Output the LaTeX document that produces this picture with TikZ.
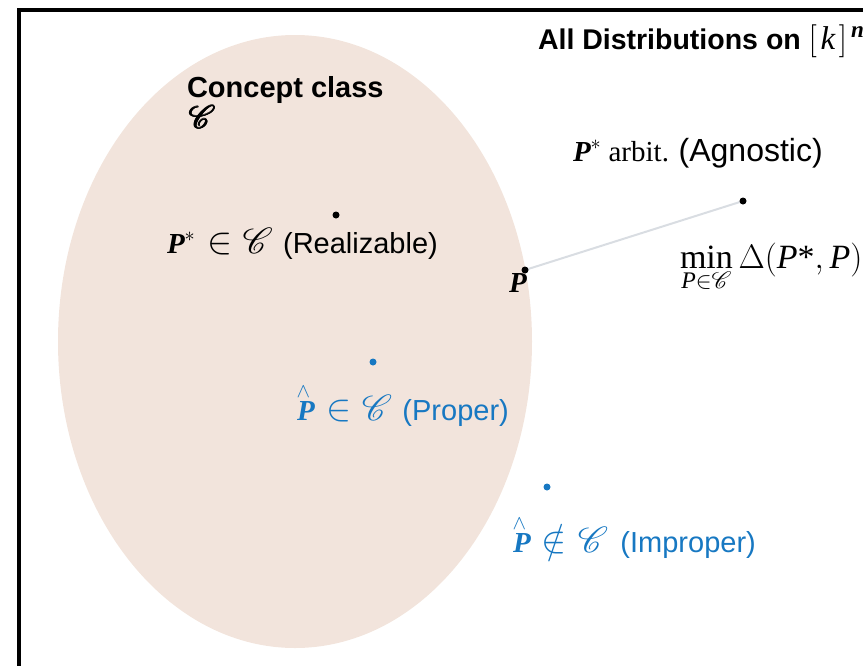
\RequirePackage{fix-cm}
\documentclass[tikz,border=0pt]{standalone}
\usepackage{amsmath}
\usepackage{graphicx}
\usepackage{mathrsfs}
\DeclareFontFamily{U}{rsfs}{\skewchar\font127 }
\DeclareFontShape{U}{rsfs}{m}{n}{<-> rsfs10}{}
\usepackage{fontspec}
\setmainfont{Liberation Serif}
\setsansfont{Liberation Sans}
\newcommand{\bP}{\text{\normalfont\bfseries\itshape P}}
\newcommand{\scC}{\mathord{\scalebox{1.25}{$\mathscr{C}$}}}
\newcommand{\tC}{\mathord{\scalebox{1.1}{$\mathscr{C}$}}}
\newcommand{\boldC}{\makebox[0pt][l]{$\tC$}\makebox[0pt][l]{\hspace{0.5pt}$\tC$}\makebox[0pt][l]{\hspace{1pt}$\tC$}\makebox[0pt][l]{\hspace{0.5pt}\raisebox{0.4pt}{$\tC$}}\hspace{1pt}$\tC$}
\newcommand{\bigin}{\mathrel{\hspace{4pt}\scalebox{1.3}{$\in$}\hspace{2pt}}}
\newcommand{\bignotin}{\mathrel{\hspace{3pt}\scalebox{1.3}{$\notin$}\hspace{3pt}}}
\newcommand{\hatP}{\overset{\raisebox{-1pt}{\hspace{-5pt}$\scriptstyle\wedge$}}{\bP}}
\definecolor{peach}{HTML}{F2E4DC}
\definecolor{bluelab}{HTML}{1778C2}
\definecolor{linkgray}{HTML}{D9DDE2}
\tikzset{
  dotb/.style={circle,fill=black,inner sep=0pt,minimum size=7pt},
  dotblue/.style={circle,fill=bluelab,inner sep=0pt,minimum size=7pt},
  lab/.style={anchor=base west,inner sep=0pt,outer sep=0pt},
  bigsans/.style={font=\fontsize{29}{33}\selectfont\sffamily\bfseries},
  labfont/.style={font=\fontsize{29}{33}\selectfont}
}
\begin{document}
\begin{tikzpicture}[x=1pt,y=-1pt]
\useasboundingbox (0,0) rectangle (863,665);
\clip (0,0) rectangle (863,665);
% frame
\draw[line width=4pt] (19,10) rectangle (950,760);
% concept class region
\fill[peach] (295,341.5) ellipse [x radius=237, y radius=306.5];
% titles
\node[lab,font=\fontsize{28.5}{32}\selectfont\sffamily\bfseries] (title) at (538,49) {All Distributions on {\fontsize{33}{36}\selectfont$[\mkern2mu\mathit{k}\mkern2mu]^{\mkern3mu\text{\normalfont\bfseries\itshape n}}$}};
\node[lab,bigsans] (concept) at (187,97) {Concept class};
\node[lab,labfont] (conceptC) at (188,128) {\boldC};
% points
\coordinate (cP) at (525,270);
\coordinate (cS) at (743,201);
\draw[linkgray,line width=2pt] (cP) -- (cS);
\node[dotb] (preal) at (336,215) {};
\node[dotb] (pstar) at (cS) {};
\node[dotb] (pproj) at (cP) {};
\node[lab,labfont] (lreal) at (167,253) {$\bP^{*}\bigin\scC$\hspace{3pt} \textsf{(Realizable)}};
\node[lab,labfont] (lP) at (509,292) {$\bP$};
\node[lab,labfont] (lagn) at (573,161) {$\bP^{*}$ arbit. {\fontsize{32}{36}\selectfont\textsf{(Agnostic)}}};
\node[lab,font=\fontsize{34}{38}\selectfont] (lmin) at (680,268) {$\displaystyle\min_{\mathit{P}\in\mathscr{C}}\Delta(\mathit{P}\text{*},\mathit{P})$};
\node[dotblue] (pprop) at (373,362) {};
\node[lab,labfont,text=bluelab] (lprop) at (297,420) {$\hatP\bigin\scC$\hspace{3pt} \textsf{(Proper)}};
\node[dotblue] (pimp) at (547,487) {};
\node[lab,labfont,text=bluelab] (limp) at (513,552) {$\hatP\bignotin\scC$\hspace{5pt} \textsf{(Improper)}};
\end{tikzpicture}
\end{document}
